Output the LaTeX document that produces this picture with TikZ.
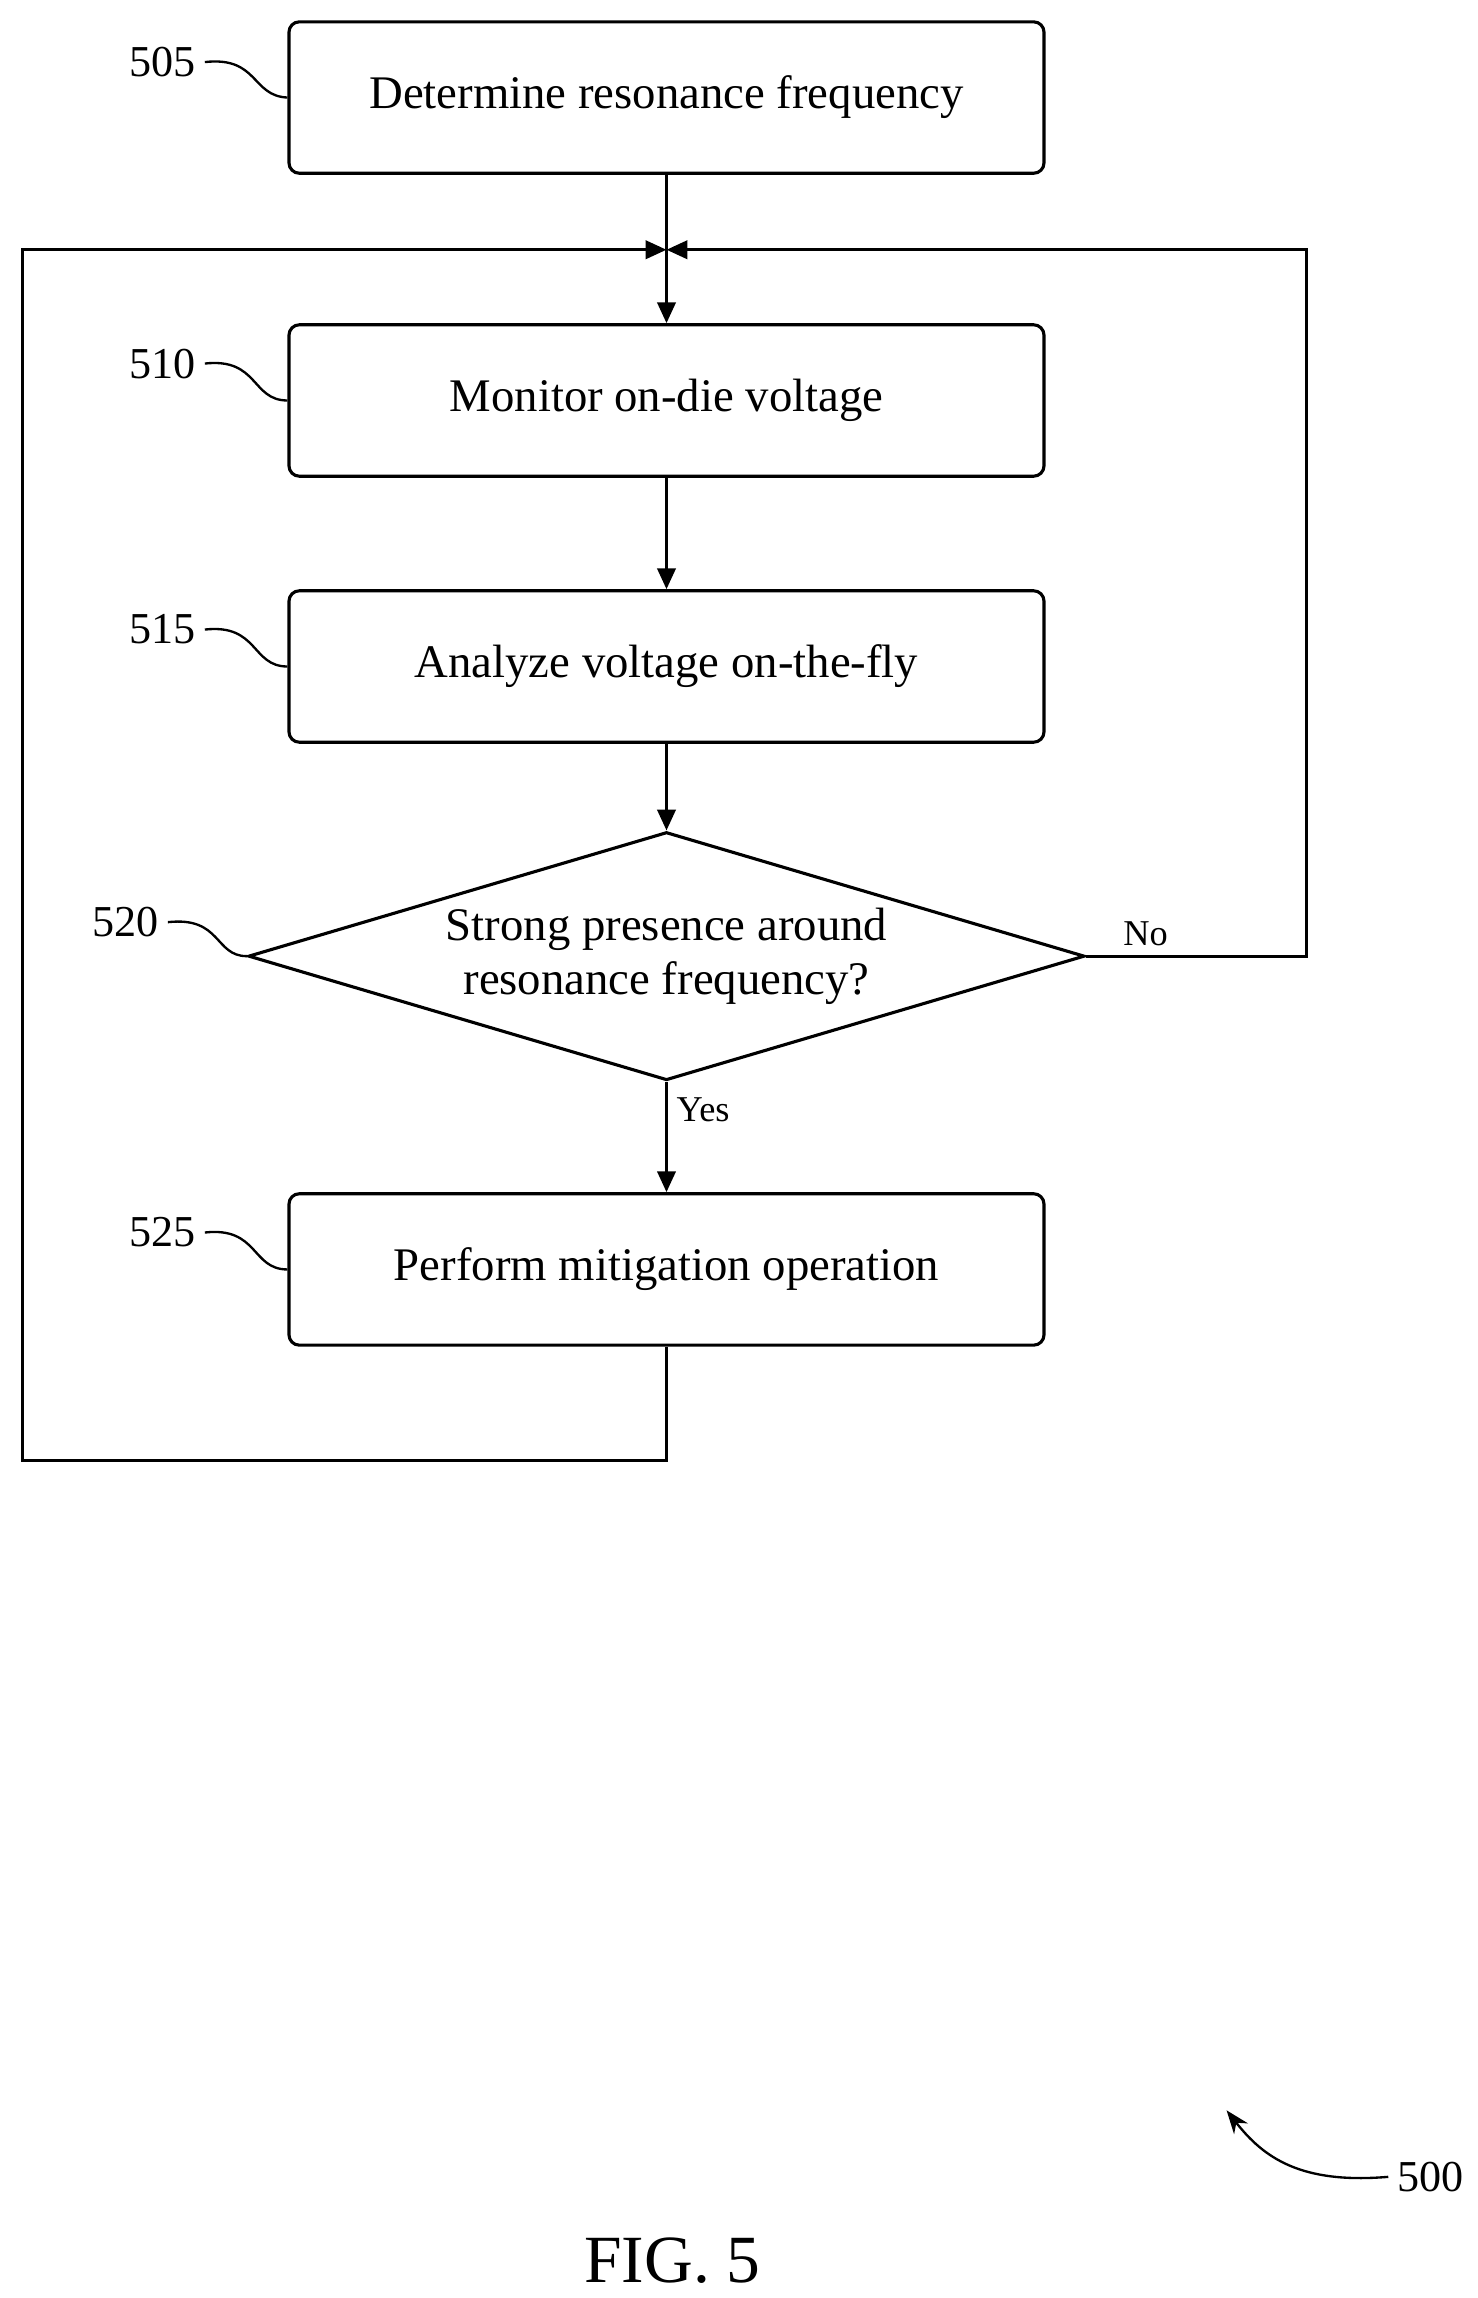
\documentclass[tikz,border=0pt]{standalone}
\usepackage{fontspec}
\setmainfont{Liberation Serif}
\usetikzlibrary{shapes.geometric,arrows.meta}
\tikzset{
    stepbox/.style={draw, line width=1.2pt, rounded corners=4pt, minimum width=10.22cm, minimum height=2.05cm, font=\fontsize{18}{21}\selectfont},
    flow/.style={line width=1.2pt, -{Triangle[length=8pt,width=7pt]}},
    ref/.style={font=\fontsize{17}{20}\selectfont},
    lead/.style={line width=0.9pt}
}
\begin{document}
\begin{tikzpicture}[x=0.02cm,y=-0.02cm]
        \useasboundingbox (0,0) rectangle (1000,1555);
        % Blocks
        \node[stepbox] (block1) at (451,66) {Determine resonance frequency};
        \node[stepbox] (block2) at (451,271) {Monitor on-die voltage};
        \node[stepbox] (block3) at (451,451) {Analyze voltage on-the-fly};
        \node[draw, line width=1.2pt, diamond, aspect=3.37, minimum width=11.32cm, minimum height=3.36cm, inner sep=0pt, align=center, font=\fontsize{18}{21}\selectfont] (block4) at (451,647) {Strong presence around\\resonance frequency?};
        \node[stepbox] (block5) at (451,859) {Perform mitigation operation};

        % Loop points
        \coordinate (merge) at (451,169);
        \coordinate (loopA) at (451,988);
        \coordinate (loopB) at (15,988);
        \coordinate (loopC) at (15,169);
        \coordinate (loopD) at (884,647);
        \coordinate (loopE) at (884,169);

        % Arrows
        \draw[line width=1.2pt] (block1) -- (merge);
        \draw[flow] (merge) -- (block2);
        \draw[flow] (block2) -- (block3);
        \draw[flow] (block3) -- (block4);
        \draw[flow] (block4) -- node[right, font=\fontsize{14}{16}\selectfont, pos=0.25] {Yes} (block5);
        \draw[flow] (block5.south) -- (loopA) -- (loopB) -- (loopC) -- (merge);
        \draw[flow] (block4.east) -- node[above, font=\fontsize{14}{16}\selectfont, pos=0.27] {No} (loopD) -- (loopE) -- (merge);

        % Reference numerals
        \node[ref] (n505) at (110,42) {505};
        \node[ref] (n510) at (110,246) {510};
        \node[ref] (n515) at (110,426) {515};
        \node[ref] (n520) at (85,624) {520};
        \node[ref] (n525) at (110,834) {525};
        \draw[lead] (n505.east) .. controls (175,38) and (170,65) .. (block1.west);
        \draw[lead] (n510.east) .. controls (175,242) and (170,271) .. (block2.west);
        \draw[lead] (n515.east) .. controls (175,422) and (170,451) .. (block3.west);
        \draw[lead] (n520.east) .. controls (150,620) and (145,647) .. (block4.west);
        \draw[lead] (n525.east) .. controls (175,830) and (170,859) .. (block5.west);

        \node[ref] (n500) at (968,1473) {500};
        \coordinate (tip500) at (830,1428);
        \draw[lead, -{Stealth[length=9pt]}] (n500.west) .. controls (880,1478) and (855,1460) .. (tip500);

        \node[font=\fontsize{26}{30}\selectfont] (fig) at (455,1530) {FIG. 5};
\end{tikzpicture}
\end{document}
